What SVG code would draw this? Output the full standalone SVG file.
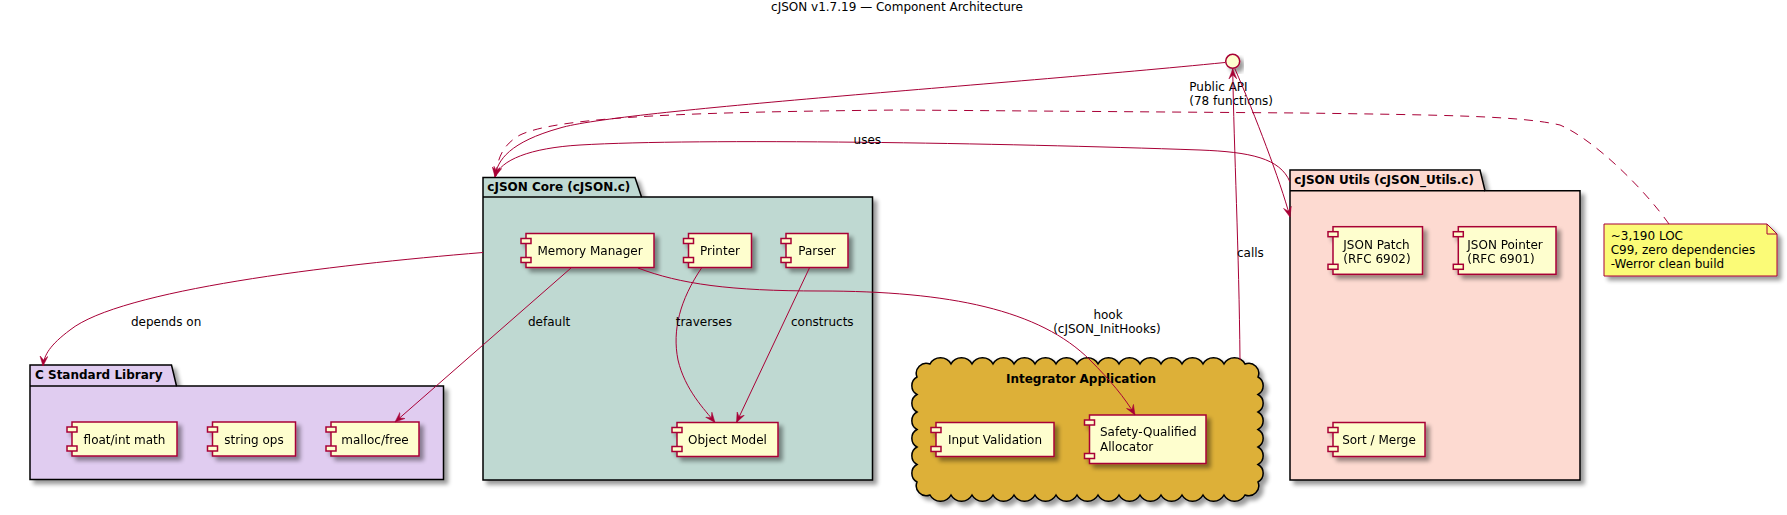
<svg xmlns="http://www.w3.org/2000/svg" width="1787" height="515" viewBox="0 0 1787 515">
<style>
text{font-family:"DejaVu Sans","Liberation Sans",sans-serif;font-size:12px;fill:#000}
.b{font-weight:bold}
.pkg{stroke:#000;stroke-width:1.5}
.cmp{fill:#FEFECE;stroke:#A80036;stroke-width:1.5}
.e{fill:none;stroke:#A80036;stroke-width:1}
.m{text-anchor:middle}
</style>
<defs>
<filter id="sh" x="-20%" y="-20%" width="150%" height="160%">
<feGaussianBlur in="SourceAlpha" stdDeviation="2" result="b"/>
<feOffset in="b" dx="4" dy="4" result="o"/>
<feComponentTransfer in="o" result="s"><feFuncA type="linear" slope="0.4"/></feComponentTransfer>
<feMerge><feMergeNode in="s"/><feMergeNode in="SourceGraphic"/></feMerge>
</filter>
<marker id="ah" markerWidth="11" markerHeight="9" refX="10" refY="4.5" orient="auto" markerUnits="userSpaceOnUse">
<path d="M0,0.5 L10,4.5 L0,8.5 L4,4.5 Z" fill="#A80036" stroke="#A80036" stroke-width="0.5"/>
</marker>
</defs>
<rect width="1787" height="515" fill="#FFFFFF"/>
<text class="m" x="897" y="11">cJSON v1.7.19 — Component Architecture</text>

<g id="pkg-core">
<path class="pkg" fill="#BFD9D2" filter="url(#sh)" d="M483,177.5 L635,177.5 L641.5,197 L872.5,197 L872.5,480 L483,480 Z"/>
<path class="pkg" fill="none" d="M483,197 L641.5,197"/>
<text class="b" x="487.3" y="190.7">cJSON Core (cJSON.c)</text>
</g>
<g id="pkg-stdlib">
<path class="pkg" fill="#E0CCF0" filter="url(#sh)" d="M30,365 L171.5,365 L176.5,386 L443.5,386 L443.5,479.5 L30,479.5 Z"/>
<path class="pkg" fill="none" d="M30,386 L176.5,386"/>
<text class="b" x="35" y="379">C Standard Library</text>
</g>
<g id="pkg-utils">
<path class="pkg" fill="#FDDAD1" filter="url(#sh)" d="M1290,170 L1480,170 L1485,190.7 L1580,190.7 L1580,480 L1290,480 Z"/>
<path class="pkg" fill="none" d="M1290,190.7 L1485,190.7"/>
<text class="b" x="1294.3" y="183.5">cJSON Utils (cJSON_Utils.c)</text>
</g>
<g id="cloud-integrator">
<path class="pkg" fill="#DDB038" filter="url(#sh)" d="M930,364 a12,12 0 0 1 21,0 a12,12 0 0 1 21,0 a12,12 0 0 1 21,0 a12,12 0 0 1 21,0 a12,12 0 0 1 21,0 a12,12 0 0 1 21,0 a12,12 0 0 1 21,0 a12,12 0 0 1 21,0 a12,12 0 0 1 21,0 a12,12 0 0 1 21,0 a12,12 0 0 1 21,0 a12,12 0 0 1 21,0 a12,12 0 0 1 21,0 a12,12 0 0 1 21,0 a12,12 0 0 1 21,0 a10,10 0 0 1 13,13 a10,10 0 0 1 0,17.5 a10,10 0 0 1 0,17.5 a10,10 0 0 1 0,17.5 a10,10 0 0 1 0,17.5 a10,10 0 0 1 0,17.5 a10,10 0 0 1 0,17.5 a10,10 0 0 1 -13,13 a12,12 0 0 1 -21,0 a12,12 0 0 1 -21,0 a12,12 0 0 1 -21,0 a12,12 0 0 1 -21,0 a12,12 0 0 1 -21,0 a12,12 0 0 1 -21,0 a12,12 0 0 1 -21,0 a12,12 0 0 1 -21,0 a12,12 0 0 1 -21,0 a12,12 0 0 1 -21,0 a12,12 0 0 1 -21,0 a12,12 0 0 1 -21,0 a12,12 0 0 1 -21,0 a12,12 0 0 1 -21,0 a12,12 0 0 1 -21,0 a10,10 0 0 1 -13,-13 a10,10 0 0 1 0,-17.5 a10,10 0 0 1 0,-17.5 a10,10 0 0 1 0,-17.5 a10,10 0 0 1 0,-17.5 a10,10 0 0 1 0,-17.5 a10,10 0 0 1 0,-17.5 a10,10 0 0 1 13,-13 Z"/>
<text class="b m" x="1081" y="383.3">Integrator Application</text>
</g>

<g id="memory-manager" filter="url(#sh)">
<rect class="cmp" x="526" y="233.5" width="128" height="34"/>
<rect class="cmp" x="521" y="238.5" width="10" height="5"/>
<rect class="cmp" x="521" y="257.5" width="10" height="5"/>
<text class="m" x="590" y="255">Memory Manager</text>
</g>
<g id="printer" filter="url(#sh)">
<rect class="cmp" x="688.5" y="233.5" width="63" height="34"/>
<rect class="cmp" x="683.5" y="238.5" width="10" height="5"/>
<rect class="cmp" x="683.5" y="257.5" width="10" height="5"/>
<text class="m" x="720" y="255">Printer</text>
</g>
<g id="parser" filter="url(#sh)">
<rect class="cmp" x="786" y="233.5" width="62" height="34"/>
<rect class="cmp" x="781" y="238.5" width="10" height="5"/>
<rect class="cmp" x="781" y="257.5" width="10" height="5"/>
<text class="m" x="817" y="255">Parser</text>
</g>
<g id="object-model" filter="url(#sh)">
<rect class="cmp" x="677" y="422.5" width="101" height="34"/>
<rect class="cmp" x="672" y="427.5" width="10" height="5"/>
<rect class="cmp" x="672" y="446.5" width="10" height="5"/>
<text class="m" x="727.5" y="444">Object Model</text>
</g>
<g id="float-int-math" filter="url(#sh)">
<rect class="cmp" x="72" y="422" width="105" height="34"/>
<rect class="cmp" x="67" y="427" width="10" height="5"/>
<rect class="cmp" x="67" y="446" width="10" height="5"/>
<text class="m" x="124.5" y="443.5">float/int math</text>
</g>
<g id="string-ops" filter="url(#sh)">
<rect class="cmp" x="212.5" y="422" width="83" height="34"/>
<rect class="cmp" x="207.5" y="427" width="10" height="5"/>
<rect class="cmp" x="207.5" y="446" width="10" height="5"/>
<text class="m" x="254" y="443.5">string ops</text>
</g>
<g id="malloc-free" filter="url(#sh)">
<rect class="cmp" x="331" y="422" width="88" height="34"/>
<rect class="cmp" x="326" y="427" width="10" height="5"/>
<rect class="cmp" x="326" y="446" width="10" height="5"/>
<text class="m" x="375" y="443.5">malloc/free</text>
</g>
<g id="input-validation" filter="url(#sh)">
<rect class="cmp" x="936" y="422.5" width="118" height="34"/>
<rect class="cmp" x="931" y="427.5" width="10" height="5"/>
<rect class="cmp" x="931" y="446.5" width="10" height="5"/>
<text class="m" x="995" y="444">Input Validation</text>
</g>
<g id="safety-allocator" filter="url(#sh)">
<rect class="cmp" x="1089.5" y="415" width="116.5" height="48.5"/>
<rect class="cmp" x="1084.5" y="420" width="10" height="5"/>
<rect class="cmp" x="1084.5" y="453.5" width="10" height="5"/>
<text x="1100" y="436">Safety-Qualified</text>
<text x="1100" y="450.5">Allocator</text>
</g>
<g id="json-patch" filter="url(#sh)">
<rect class="cmp" x="1333" y="226.7" width="89.5" height="47.6"/>
<rect class="cmp" x="1328" y="231.7" width="10" height="5"/>
<rect class="cmp" x="1328" y="264.3" width="10" height="5"/>
<text x="1343.3" y="248.5">JSON Patch</text>
<text x="1343.3" y="263">(RFC 6902)</text>
</g>
<g id="json-pointer" filter="url(#sh)">
<rect class="cmp" x="1458.3" y="226.7" width="97.7" height="47.6"/>
<rect class="cmp" x="1453.3" y="231.7" width="10" height="5"/>
<rect class="cmp" x="1453.3" y="264.3" width="10" height="5"/>
<text x="1467.3" y="248.5">JSON Pointer</text>
<text x="1467.3" y="263">(RFC 6901)</text>
</g>
<g id="sort-merge" filter="url(#sh)">
<rect class="cmp" x="1333" y="422.5" width="92" height="34"/>
<rect class="cmp" x="1328" y="427.5" width="10" height="5"/>
<rect class="cmp" x="1328" y="446.5" width="10" height="5"/>
<text class="m" x="1379" y="444">Sort / Merge</text>
</g>
<g id="public-api">
<circle cx="1232.7" cy="61.3" r="7" fill="#FEFECE" stroke="#A80036" stroke-width="1.5" filter="url(#sh)"/>
<text x="1189.3" y="90.7">Public API</text>
<text x="1189.3" y="104.7">(78 functions)</text>
</g>
<g id="note">
<path d="M1604,224 L1767,224 L1777,234 L1777,276 L1604,276 Z" fill="#FBFB77" stroke="#A80036" stroke-width="1" filter="url(#sh)"/>
<path d="M1767,224 L1767,234 L1777,234" fill="none" stroke="#A80036" stroke-width="1"/>
<text x="1610.7" y="239.5">~3,190 LOC</text>
<text x="1610.7" y="253.5">C99, zero dependencies</text>
<text x="1610.7" y="267.5">-Werror clean build</text>
</g>

<g id="connectors">
<path class="e" stroke-dasharray="9,7" d="M1669,224 C1645,190 1595,140 1560,125 C1520,116 1450,115 1300,113 L900,110 C700,112 560,116 520,135 C502,145 497,160 496,176"/>
<path class="e" marker-end="url(#ah)" d="M1225,62.5 C1000,85 620,110 560,128 C510,142 497,160 495,177"/>
<path class="e" marker-end="url(#ah)" d="M1290,182 C1280,158 1250,152 1200,150 C1000,143 700,138 580,145 C530,148 500,160 495,177"/>
<text x="853.6" y="144">uses</text>
<path class="e" marker-end="url(#ah)" d="M1235,69 C1255,115 1280,180 1290,217"/>
<path class="e" marker-end="url(#ah)" d="M1240,360 C1239,250 1234,150 1232.7,69"/>
<text x="1237" y="256.5">calls</text>
<path class="e" marker-end="url(#ah)" d="M483,252.5 C330,265 120,290 70,330 C50,345 44,355 43,366"/>
<text x="131" y="326">depends on</text>
<path class="e" marker-end="url(#ah)" d="M571,268 L395,422"/>
<text x="528" y="326">default</text>
<path class="e" marker-end="url(#ah)" d="M701.5,268 C680,300 672,330 678,360 C685,390 705,410 715,422.5"/>
<text x="675.7" y="326">traverses</text>
<path class="e" marker-end="url(#ah)" d="M809.4,268 L736.5,422.5"/>
<text x="791" y="326">constructs</text>
<path class="e" marker-end="url(#ah)" d="M638,268 C680,284 730,291 820,291 C950,291 1040,310 1090,360 C1110,380 1125,398 1135,415"/>
<text class="m" x="1108" y="319">hook</text>
<text class="m" x="1107" y="333">(cJSON_InitHooks)</text>
</g>
</svg>
